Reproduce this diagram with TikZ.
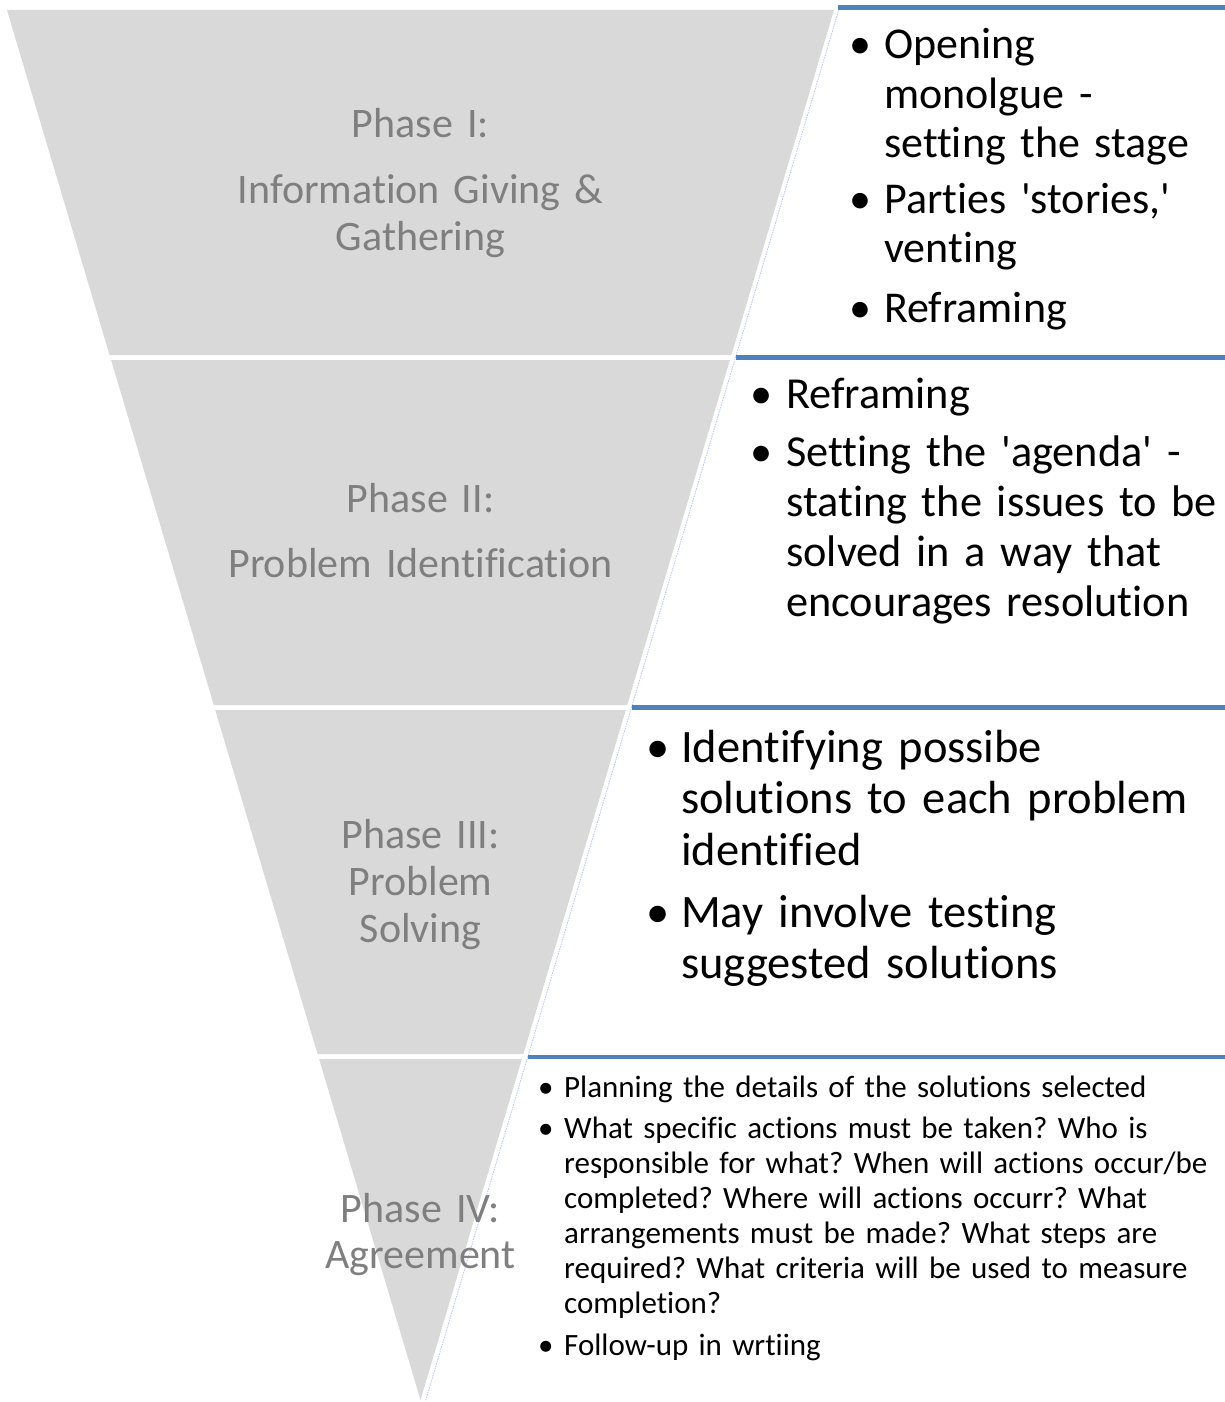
\documentclass[tikz,border=0pt]{standalone}
\usepackage{fontspec}
\setmainfont{Carlito}[Ligatures={NoCommon}]
\definecolor{bandgray}{HTML}{D9D9D9}
\definecolor{labelgray}{HTML}{7F7F7F}
\definecolor{accentblue}{HTML}{4F81BD}
\definecolor{edgeblue}{HTML}{B4C7E7}
\newcommand{\bul}[2]{\frenchspacing\hyphenpenalty=10000\exhyphenpenalty=10000\hangindent=#1\hangafter=1\makebox[#1][l]{•}#2\par}
\tikzset{
  band/.style={fill=bandgray, draw=none},
  phaselabel/.style={text=labelgray, align=center, text width=420pt, inner sep=0pt, anchor=base},
  bulletitem/.style={anchor=base west, inner sep=0pt, text width=#1, align=left},
  topline/.style={draw=accentblue, line width=4.5pt},
  edgeline/.style={draw=edgeblue, line width=0.8pt, dash pattern=on 1.5pt off 1pt},
}
\begin{document}
\begin{tikzpicture}[x=1pt,y=-1pt]
\useasboundingbox (0,0) rectangle (1225,1402);
% bands
\fill[band] (7,10) -- (834,10) -- (731.4,355) -- (109.6,355) -- cycle;
\fill[band] (111.1,360) -- (729.9,360) -- (627.2,705) -- (213.8,705) -- cycle;
\fill[band] (215.2,710) -- (625.8,710) -- (523.4,1054) -- (317.6,1054) -- cycle;
\fill[band] (319.1,1059) -- (521.9,1059) -- (420.5,1400) -- cycle;
% edge of text boxes
\draw[edgeline] (839,9) -- (425.5,1401);
% blue top lines
\draw[topline] (838,7.5) -- (1225,7.5);
\draw[topline] (736,357.5) -- (1225,357.5);
\draw[topline] (632,707.5) -- (1225,707.5);
\draw[topline] (528,1057) -- (1225,1057);
% phase labels
\node[phaselabel, font=\fontsize{42}{46}\selectfont] (p1) at (420.5,138)
  {Phase I:\par\vspace{20pt}Information Giving \&\\ Gathering};
\node[phaselabel, font=\fontsize{42}{46}\selectfont] (p2) at (420.5,512)
  {Phase II:\par\vspace{19pt}Problem Identification};
\node[phaselabel, font=\fontsize{42}{47}\selectfont] (p3) at (420.5,848)
  {Phase III:\\ Problem\\ Solving};
\node[phaselabel, font=\fontsize{42}{46}\selectfont] (p4) at (420.5,1222)
  {Phase IV:\\ Agreement};
% band 1 text
\begin{scope}[font=\fontsize{44}{49.5}\selectfont]
\node[bulletitem=420pt] (b1a) at (849,59) {\bul{35pt}{Opening\newline monolgue -\newline setting the stage}};
\node[bulletitem=420pt] (b1b) at (849,213) {\bul{35pt}{Parties \textquotesingle stories,\textquotesingle\newline venting}};
\node[bulletitem=420pt] (b1c) at (849,322) {\bul{35pt}{Reframing}};
\end{scope}
% band 2 text
\begin{scope}[font=\fontsize{44.3}{50}\selectfont]
\node[bulletitem=540pt] (b2a) at (750,408) {\bul{36pt}{Reframing}};
\node[bulletitem=540pt] (b2b) at (750,466) {\bul{36pt}{Setting the \textquotesingle agenda\textquotesingle{} -\newline stating the issues to be\newline solved in a way that\newline encourages resolution}};
\end{scope}
% band 3 text
\begin{scope}[font=\fontsize{46.5}{51.5}\selectfont]
\node[bulletitem=640pt] (b3a) at (646,762) {\bul{35pt}{Identifying possibe\newline solutions to each problem\newline identified}};
\node[bulletitem=640pt] (b3b) at (646,927) {\bul{35pt}{May involve testing\newline suggested solutions}};
\end{scope}
% band 4 text
\begin{scope}[font=\fontsize{31}{35}\selectfont]
\node[bulletitem=760pt] (b4a) at (538,1097) {\bul{26pt}{Planning the details of the solutions selected}};
\node[bulletitem=760pt] (b4b) at (538,1138) {\bul{26pt}{What specific actions must be taken? Who is\newline responsible for what? When will actions occur/be\newline completed? Where will actions occurr? What\newline arrangements must be made? What steps are\newline required? What criteria will be used to measure\newline completion?}};
\node[bulletitem=760pt] (b4c) at (538,1355) {\bul{26pt}{Follow-up in wrtiing}};
\end{scope}
\end{tikzpicture}
\end{document}
